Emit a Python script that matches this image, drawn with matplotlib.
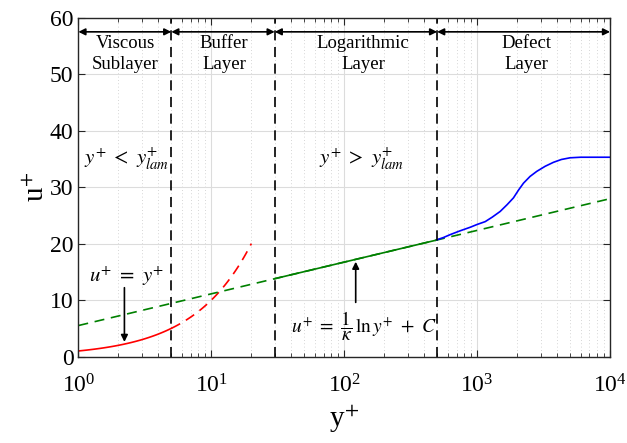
import numpy as np
import matplotlib
matplotlib.use("Agg")
import matplotlib.pyplot as plt

plt.rcParams['font.family'] = ['Liberation Serif', 'DejaVu Serif']
plt.rcParams['mathtext.fontset'] = 'stix'

# law of the wall constants
kappa = 0.41
C = 5.5

# layer boundaries in y+
y_visc = 5
y_buff = 30
y_log = 500

# measured velocity profile in the defect (outer) layer
yp_defect = [500, 560, 627, 750, 886, 1000, 1150, 1300, 1490, 1680, 1875, 2050, 2230,
             2500, 2810, 3250, 3750, 4300, 5000, 6000, 7500, 10000]
up_defect = [20.7, 21.1, 21.6, 22.3, 22.9, 23.4, 23.9, 24.7, 25.7, 26.9, 28.1, 29.5, 30.7,
             31.9, 32.8, 33.7, 34.4, 34.9, 35.2, 35.3, 35.3, 35.3]

layer_names = ['Viscous\nSublayer', 'Buffer\nLayer', 'Logarithmic\nLayer', 'Defect\nLayer']
layer_edges = [1, y_visc, y_buff, y_log, 1e4]
layer_label_x = [2.26, 12.5, 139, 2335]

fig, ax = plt.subplots(figsize=(6.27, 4.43), dpi=100)
fig.subplots_adjust(left=0.125, right=0.973, top=0.96, bottom=0.195)

# linear sublayer u+ = y+
y_lin = np.logspace(0, np.log10(y_visc), 100)
ax.plot(y_lin, y_lin, color='red', lw=1.2)
y_lin2 = np.logspace(np.log10(y_visc), np.log10(20), 100)
ax.plot(y_lin2, y_lin2, color='red', lw=1.2, ls=(0, (6, 4)))

# log law
y_all = np.logspace(0, 4, 200)
ax.plot(y_all, np.log(y_all) / kappa + C, color='green', lw=1.2, ls=(0, (6, 4)))
y_mid = np.logspace(np.log10(y_buff), np.log10(y_log), 100)
ax.plot(y_mid, np.log(y_mid) / kappa + C, color='green', lw=1.2)

ax.plot(yp_defect, up_defect, color='blue', lw=1.2)

for yb in [y_visc, y_buff, y_log]:
    ax.axvline(yb, color='black', lw=1.2, ls=(0, (6, 4)))

ax.set_xscale('log')
ax.set_xlim(1, 1e4)
ax.set_ylim(0, 60)
ax.set_yticks(range(0, 61, 10))
ax.grid(True, which='major', color='#dcdcdc', lw=0.8)
ax.grid(True, which='minor', color='#c8c8c8', lw=0.6, ls=(0, (1, 3)))
ax.set_axisbelow(True)
ax.tick_params(which='both', direction='in', top=True, right=True, labelsize=17, color='#262626')
ax.tick_params(which='major', length=5)
ax.tick_params(which='minor', length=3)
ax.tick_params(axis='x', pad=13)
for s in ax.spines.values():
    s.set_linewidth(1.0)
    s.set_color('#262626')

ax.set_xlabel('y$^{+}$', fontsize=21, labelpad=4)
ax.set_ylabel('u$^{+}$', fontsize=21, labelpad=0)

# layer extents and names
for i, name in enumerate(layer_names):
    ax.annotate('', xy=(layer_edges[i], 57.5), xytext=(layer_edges[i + 1], 57.5),
                arrowprops=dict(arrowstyle='<|-|>', color='black', lw=1.2,
                                mutation_scale=10, shrinkA=0, shrinkB=0))
    ax.text(layer_label_x[i], 53.6, name, ha='center', va='center',
            fontsize=13.5, linespacing=1.35)

ax.text(2.3, 35, r'$y^{+}\ <\ y^{+}_{lam}$', ha='center', va='center', fontsize=15)
ax.text(136, 35, r'$y^{+}\ >\ y^{+}_{lam}$', ha='center', va='center', fontsize=15)

ax.text(2.3, 14.3, r'$u^{+}\ =\ y^{+}$', ha='center', va='center', fontsize=15)
ax.annotate('', xy=(2.22, 2.6), xytext=(2.22, 12.2),
            arrowprops=dict(arrowstyle='-|>', color='black', lw=1.2,
                            mutation_scale=10, shrinkA=0, shrinkB=0))

ax.text(140, 5.3, r'$u^{+}\ =\ \dfrac{1}{\kappa}\,\ln y^{+}\ +\ C$', ha='center', va='center', fontsize=14)
ax.annotate('', xy=(122, 16.8), xytext=(122, 9.6),
            arrowprops=dict(arrowstyle='-|>', color='black', lw=1.2,
                            mutation_scale=10, shrinkA=0, shrinkB=0))

fig.savefig('out.png', dpi=100)
